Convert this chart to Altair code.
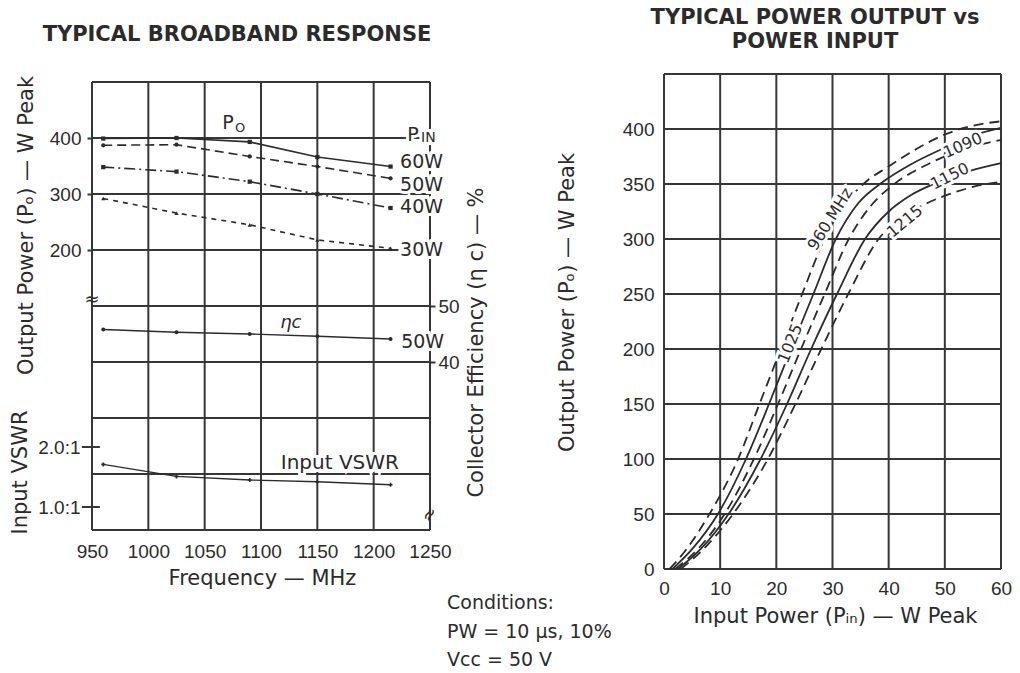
import altair as alt
import pandas as pd

W, H = 1020, 673
FONT = "DejaVu Sans"
TICKFONT = "Liberation Sans"
INK = "#2b2b2b"
GRID = "#363636"

# ---------------- left panel: typical broadband response ----------------
freq_mhz = [960, 1025, 1090, 1150, 1215]
po_60w = [399, 400, 393, 366, 349]
po_50w = [387, 388, 367, 349, 328]
po_40w = [348, 340, 322, 300, 275]
po_30w = [292, 266, 245, 218, 203]
eff_50w = [45.8, 45.3, 45.0, 44.6, 44.1]
vswr_in = [1.71, 1.51, 1.45, 1.42, 1.37]

freq_ticks = [950, 1000, 1050, 1100, 1150, 1200, 1250]
po_grid_left = [-300, -200, -100, 0, 100, 200, 300, 400, 500]
po_labels_left = [200, 300, 400]
eff_labels = [40, 50]
vswr_labels = [1.0, 2.0]

# ---------------- right panel: power output vs power input ----------------
pin_960 = [1.0, 4.0, 8.1, 13.2, 17.0, 20.8, 24.6, 28.6, 32.0, 35.5, 40.0, 45.0, 50.0, 55.0, 60.0]
po_960 = [0, 18, 50, 100, 150, 200, 250, 300, 330, 350, 366, 382, 395, 403, 407]
pin_1025 = [1.5, 5.0, 9.6, 14.6, 18.7, 22.6, 26.6, 30.6, 34.5, 39.0, 44.0, 50.0, 55.0, 60.0]
po_1025 = [0, 18, 50, 100, 150, 200, 250, 300, 332, 352, 368, 383, 394, 401]
pin_1090 = [2.0, 6.0, 10.8, 16.0, 20.3, 24.4, 28.6, 32.9, 36.8, 41.0, 47.0, 53.0, 60.0]
po_1090 = [0, 18, 50, 100, 150, 200, 250, 300, 330, 350, 368, 381, 390]
pin_1150 = [2.5, 6.5, 11.5, 17.2, 21.9, 26.2, 30.8, 35.8, 40.0, 44.0, 49.0, 54.5, 60.0]
po_1150 = [0, 18, 50, 100, 150, 200, 250, 300, 325, 340, 352, 362, 369]
pin_1215 = [3.0, 7.0, 12.3, 18.5, 23.4, 28.0, 32.8, 38.2, 42.5, 47.0, 51.5, 55.5, 60.0]
po_1215 = [0, 18, 50, 100, 150, 200, 250, 300, 320, 333, 342, 348, 352]

pin_ticks = [0, 10, 20, 30, 40, 50, 60]
po_grid_right = [0, 50, 100, 150, 200, 250, 300, 350, 400, 450]
po_labels_right = [0, 50, 100, 150, 200, 250, 300, 350, 400]

# ---------------- scales (panel placement) ----------------
s_freq = alt.Scale(domain=[950, 1250], range=[92, 430], nice=False, zero=False)
s_po = alt.Scale(domain=[-300, 500], range=[530, 82], nice=False, zero=False)
s_eff = alt.Scale(domain=[40, 50], range=[362, 306], nice=False, zero=False)
s_vswr = alt.Scale(domain=[1, 2], range=[507, 447], nice=False, zero=False)
s_pin = alt.Scale(domain=[0, 60], range=[664, 1001], nice=False, zero=False)
s_po2 = alt.Scale(domain=[0, 450], range=[569, 74], nice=False, zero=False)


def X(field, scale, axis=None):
    return alt.X(field, type="quantitative", scale=scale, axis=axis)


def Y(field, scale, axis=None):
    return alt.Y(field, type="quantitative", scale=scale, axis=axis)


def ax(**kw):
    base = dict(domain=False, grid=False, labelFont=TICKFONT, labelColor=INK,
                labelFontSize=19, titleFont=FONT, titleColor=INK,
                titleFontSize=21, titleFontWeight="normal",
                tickColor=GRID, tickWidth=2, ticks=False, tickSize=0,
                labelOverlap=False, labelBound=False, labelFlush=False)
    base.update(kw)
    return alt.Axis(**base)


layers = []

# ---- left grid + axes ----
freq_axis = ax(orient="bottom", offset=530 - H, values=freq_ticks, format="d",
               labelPadding=12, title="Frequency — MHz", titleX=262, titleY=48,
               titleAlign="center", titleBaseline="middle")
gv_left = pd.DataFrame({"f": freq_ticks, "y0": po_grid_left[0], "y1": po_grid_left[-1]})
layers.append(alt.Chart(gv_left).mark_rule(color=GRID, strokeWidth=2).encode(
    x=X("f", s_freq, freq_axis), y=Y("y0", s_po), y2="y1"))

po_axis = ax(orient="left", offset=-92, values=po_labels_left, ticks=True, tickSize=5,
             labelPadding=6, title="Output Power (Pₒ) — W Peak", titleAngle=270,
             titleX=-66, titleY=225, titleAlign="center", titleBaseline="middle")
gh_left = pd.DataFrame({"p": po_grid_left, "x0": freq_ticks[0], "x1": freq_ticks[-1]})
layers.append(alt.Chart(gh_left).mark_rule(color=GRID, strokeWidth=2).encode(
    y=Y("p", s_po, po_axis), x=X("x0", s_freq), x2="x1"))

# ---- left data series ----
series = [("60W", po_60w, None, "square"),
          ("50W", po_50w, [9, 5], "circle"),
          ("40W", po_40w, [11, 4, 2, 4], "square"),
          ("30W", po_30w, [5, 5], "triangle-up")]
for name, vals, dash, shape in series:
    df = pd.DataFrame({"freq": freq_mhz, "po": vals})
    kw = dict(color=INK, strokeWidth=1.6)
    if dash:
        kw["strokeDash"] = dash
    layers.append(alt.Chart(df).mark_line(**kw).encode(x=X("freq", s_freq), y=Y("po", s_po)))
    layers.append(alt.Chart(df).mark_point(filled=True, color=INK, size=18, shape=shape, opacity=1).encode(
        x=X("freq", s_freq), y=Y("po", s_po)))

eff_axis = ax(orient="right", offset=430 - W, values=eff_labels, ticks=True, tickSize=5,
              labelPadding=3, title="Collector Efficiency (η c) — %", titleAngle=270,
              titleX=46, titleY=342, titleAlign="center", titleBaseline="middle")
df_eff = pd.DataFrame({"freq": freq_mhz, "eff": eff_50w})
layers.append(alt.Chart(df_eff).mark_line(color=INK, strokeWidth=1.4).encode(
    x=X("freq", s_freq), y=Y("eff", s_eff, eff_axis)))
layers.append(alt.Chart(df_eff).mark_point(filled=True, color=INK, size=16, opacity=1).encode(
    x=X("freq", s_freq), y=Y("eff", s_eff)))

vswr_axis = ax(orient="left", offset=-92, values=vswr_labels,
               labelExpr="format(datum.value, '.1f') + ':1'", labelPadding=12,
               title="Input VSWR", titleAngle=270, titleX=-72, titleY=472,
               titleAlign="center", titleBaseline="middle")
df_vswr = pd.DataFrame({"freq": freq_mhz, "v": vswr_in})
layers.append(alt.Chart(df_vswr).mark_line(color=INK, strokeWidth=1.4).encode(
    x=X("freq", s_freq), y=Y("v", s_vswr, vswr_axis)))
layers.append(alt.Chart(df_vswr).mark_point(filled=True, color=INK, size=16, shape="cross", opacity=1).encode(
    x=X("freq", s_freq), y=Y("v", s_vswr)))
# VSWR ticks crossing the frame
df_vt = pd.DataFrame({"v": vswr_labels, "a": 941.0, "b": 957.0})
layers.append(alt.Chart(df_vt).mark_rule(color=GRID, strokeWidth=2).encode(
    y=Y("v", s_vswr), x=X("a", s_freq), x2="b"))

# ---- right grid + axes ----
pin_axis = ax(orient="bottom", offset=569 - H, values=pin_ticks, format="d",
              labelPadding=10, title="Input Power (Pᵢₙ) — W Peak", titleX=835, titleY=47,
              titleAlign="center", titleBaseline="middle")
gv_right = pd.DataFrame({"p": pin_ticks, "y0": po_grid_right[0], "y1": po_grid_right[-1]})
layers.append(alt.Chart(gv_right).mark_rule(color=GRID, strokeWidth=2).encode(
    x=X("p", s_pin, pin_axis), y=Y("y0", s_po2), y2="y1"))

po2_axis = ax(orient="left", offset=-664, values=po_labels_right, format="d",
              labelPadding=10, title="Output Power (Pₒ) — W Peak", titleAngle=270,
              titleX=-97, titleY=302, titleAlign="center", titleBaseline="middle")
gh_right = pd.DataFrame({"p": po_grid_right, "x0": pin_ticks[0], "x1": pin_ticks[-1]})
layers.append(alt.Chart(gh_right).mark_rule(color=GRID, strokeWidth=2).encode(
    y=Y("p", s_po2, po2_axis), x=X("x0", s_pin), x2="x1"))

curves = [("960", pin_960, po_960, [10, 6]),
          ("1025", pin_1025, po_1025, None),
          ("1090", pin_1090, po_1090, [10, 6]),
          ("1150", pin_1150, po_1150, None),
          ("1215", pin_1215, po_1215, [10, 6])]
for name, xs, ys, dash in curves:
    df = pd.DataFrame({"pin": xs, "po": ys, "i": list(range(len(xs)))})
    kw = dict(color=INK, strokeWidth=1.8, interpolate="monotone")
    if dash:
        kw["strokeDash"] = dash
    layers.append(alt.Chart(df).mark_line(**kw).encode(
        x=X("pin", s_pin), y=Y("po", s_po2), order="i:Q"))


# ---- text labels (white halos first, then the texts) ----
halo_layers, text_only = [], []


def add_label(text, x, y, xs, ys, size, angle=0, halo=False, italic=False, align="center"):
    df = pd.DataFrame({"x": [x], "y": [y], "text": [text]})
    base = dict(font=FONT, fontSize=size, align=align, baseline="middle", angle=angle)
    if italic:
        base["fontStyle"] = "italic"
    enc = dict(x=X("x", xs), y=Y("y", ys), text="text:N")
    if halo:
        halo_layers.append(alt.Chart(df).mark_text(color="white", stroke="white", strokeWidth=6, **base).encode(**enc))
    text_only.append(alt.Chart(df).mark_text(color=INK, **base).encode(**enc))


# left panel annotations
add_label("P", 1070.7, 427, s_freq, s_po, 19)
add_label("O", 1081.5, 418, s_freq, s_po, 13)
add_label("P", 1235.0, 405, s_freq, s_po, 19, halo=True)
add_label("IN", 1248.5, 400, s_freq, s_po, 14, halo=True)
add_label("60W", 1242.5, 358, s_freq, s_po, 19, halo=True)
add_label("50W", 1242.5, 316, s_freq, s_po, 19, halo=True)
add_label("40W", 1242.5, 276, s_freq, s_po, 19, halo=True)
add_label("30W", 1242.5, 200, s_freq, s_po, 19, halo=True)
add_label("ηc", 1126.5, 47.0, s_freq, s_eff, 18, italic=True)
add_label("50W", 1243.5, 43.6, s_freq, s_eff, 19, halo=True)
add_label("Input VSWR", 1170.0, 1.73, s_freq, s_vswr, 20, halo=True)
add_label("≈", 950, 111, s_freq, s_po, 18)
add_label("≈", 1250, 0.87, s_freq, s_vswr, 18, angle=300)

# right panel curve labels
add_label("960 MHz", 29.6, 318, s_pin, s_po2, 16, angle=302, halo=True)
add_label("1025", 22.5, 205, s_pin, s_po2, 16, angle=292, halo=True)
add_label("1090", 53.2, 385, s_pin, s_po2, 16, angle=336, halo=True)
add_label("1150", 50.9, 357, s_pin, s_po2, 16, angle=333, halo=True)
add_label("1215", 42.9, 316, s_pin, s_po2, 16, angle=320, halo=True)

layers += halo_layers + text_only


# titles and conditions
def fixed_text(text, px, py, size, bold=False, align="center"):
    df = pd.DataFrame({"t": [text]})
    kw = dict(font=FONT, fontSize=size, color=INK, align=align, baseline="middle")
    if bold:
        kw["fontWeight"] = "bold"
    return alt.Chart(df).mark_text(**kw).encode(x=alt.value(px), y=alt.value(py), text="t:N")


layers.append(fixed_text("TYPICAL BROADBAND RESPONSE", 237, 35, 21, bold=True))
layers.append(fixed_text("TYPICAL POWER OUTPUT vs", 815, 18, 21, bold=True))
layers.append(fixed_text("POWER INPUT", 815, 42, 21, bold=True))
layers.append(fixed_text("Conditions:", 447, 603, 19, align="left"))
layers.append(fixed_text("PW = 10 µs, 10%", 447, 632, 19, align="left"))
layers.append(fixed_text("Vᴄᴄ = 50 V", 447, 660, 19, align="left"))

chart = alt.layer(*layers).resolve_scale(
    x="independent", y="independent"
).properties(
    width=W, height=H, autosize=alt.AutoSizeParams(type="none"), padding=0,
    background="white"
).configure_view(stroke=None)

chart.save("out.html", embed_options={"renderer": "svg", "actions": False})
